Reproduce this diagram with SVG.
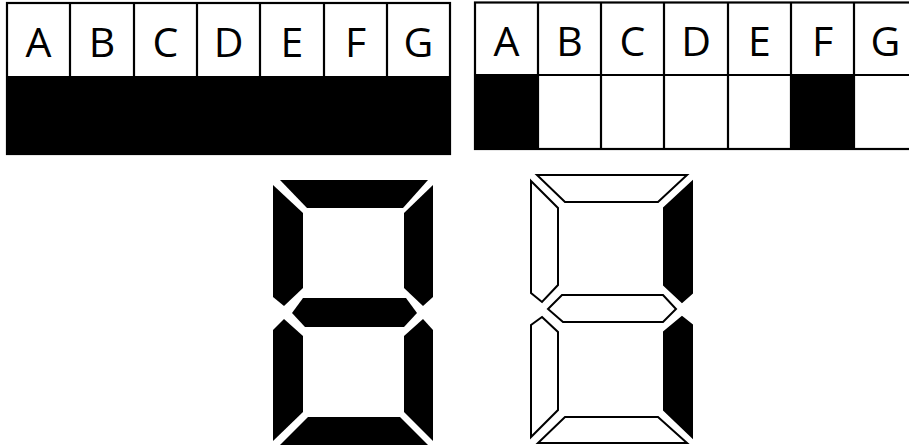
<svg xmlns="http://www.w3.org/2000/svg" width="909" height="448" viewBox="0 0 909 448">
<style>
.grid{fill:none;stroke:#000;stroke-width:2.2}
.on{fill:#000}
.lbl{font-family:"Open Sans","Liberation Sans",sans-serif;font-size:41px;fill:#000;text-anchor:middle}
.segL{fill:#000}
.segR{fill:#fff;stroke:#000;stroke-width:2;stroke-linejoin:miter}
.segR.on{fill:#000}
</style>
<rect width="909" height="448" fill="#fff"/>
<g id="table-left">
  <rect x="7" y="77" width="443" height="77" class="on"/>
  <rect x="7" y="3" width="443" height="151" class="grid"/>
  <path class="grid" d="M7 77H450M70 3V77M134 3V77M197 3V77M260 3V77M324 3V77M387 3V77"/>
  <g class="lbl">
    <text x="38.5" y="57">A</text>
    <text x="102" y="57">B</text>
    <text x="165.5" y="57">C</text>
    <text x="228.5" y="57">D</text>
    <text x="292" y="57">E</text>
    <text x="355.5" y="57">F</text>
    <text x="418.5" y="57">G</text>
  </g>
</g>
<g id="table-right">
  <rect x="475" y="75" width="63" height="74" class="on"/>
  <rect x="791" y="75" width="63" height="74" class="on"/>
  <rect x="475" y="2.5" width="445" height="146.5" class="grid"/>
  <path class="grid" d="M475 75H920M538 2.5V149M601 2.5V149M664 2.5V149M728 2.5V149M791 2.5V149M854 2.5V149"/>
  <g class="lbl">
    <text x="506.5" y="56">A</text>
    <text x="569.5" y="56">B</text>
    <text x="632.5" y="56">C</text>
    <text x="696" y="56">D</text>
    <text x="759.5" y="56">E</text>
    <text x="822.5" y="56">F</text>
    <text x="885.5" y="56">G</text>
  </g>
</g>
<g id="display-left">
  <polygon id="L-a" class="segL" points="280,180 428,180 403,208 307,208"/>
  <polygon id="L-f" class="segL" points="273,185 303,213 303,288 284,306 273,297"/>
  <polygon id="L-b" class="segL" points="433,185 404,213 404,288 423,306 433,297"/>
  <polygon id="L-g" class="segL" points="292,313 303,298 406,298 417,313 404,327 305,327"/>
  <polygon id="L-e" class="segL" points="284,319 303,336 303,412 273,441 273,330"/>
  <polygon id="L-c" class="segL" points="423,319 404,336 404,412 433,441 433,330"/>
  <polygon id="L-d" class="segL" points="308,417 400,417 428,445 280,445"/>
</g>
<g id="display-right">
  <polygon id="R-a" class="segR" points="537,175 687,175 658,202 565,202"/>
  <polygon id="R-f" class="segR" points="531,181 558,208 558,285 542,302 531,293"/>
  <polygon id="R-b" class="segR on" points="692,182 664,208 664,285 682,302 692,293"/>
  <polygon id="R-g" class="segR" points="548,309 562,295 663,295 676,309 663,322 563,322"/>
  <polygon id="R-e" class="segR" points="542,317 558,332 558,410 531,437 531,325"/>
  <polygon id="R-c" class="segR on" points="682,317 664,332 664,410 692,437 692,325"/>
  <polygon id="R-d" class="segR" points="565,417 658,417 687,443 538,443"/>
</g>
</svg>
